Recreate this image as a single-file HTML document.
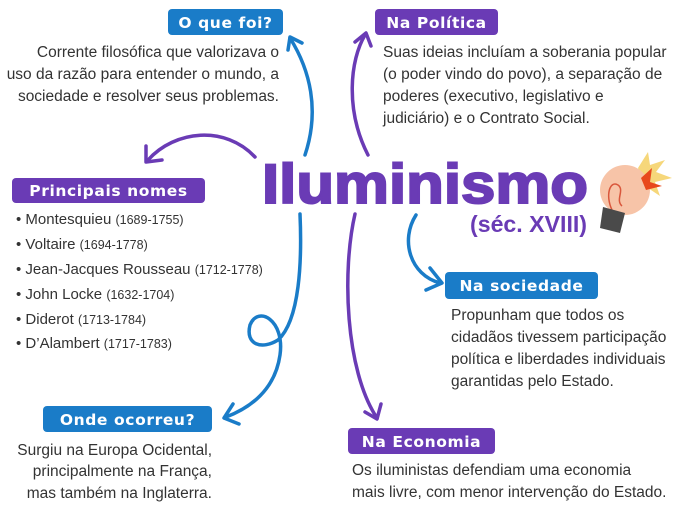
<!DOCTYPE html>
<html><head><meta charset="utf-8"><style>
html,body{margin:0;padding:0;background:#fff;}
svg{display:block;}
.t{font-family:"Liberation Sans",sans-serif;font-size:15.5px;fill:#333;}
.h{font-family:"DejaVu Sans","Liberation Sans",sans-serif;font-weight:bold;font-size:15.5px;fill:#fff;letter-spacing:0.6px;}
.li{font-family:"Liberation Sans",sans-serif;font-size:15px;fill:#333;}
.yr{font-size:12.5px;}
</style></head><body>
<svg width="685" height="510" viewBox="0 0 685 510" xmlns="http://www.w3.org/2000/svg">
<g fill="none" stroke-linecap="round" stroke-linejoin="round" stroke-width="3.5">
 <path d="M305 155 C320 110 310 70 290 38" stroke="#1a7cc8"/>
 <path d="M288 50 L290 37 L302 43" stroke="#1a7cc8"/>
 <path d="M255 157 C225 125 175 130 148 160" stroke="#6a3bb5"/>
 <path d="M146 146 L146 162 L162 160" stroke="#6a3bb5"/>
 <path d="M368 155 C345 110 350 60 365 35" stroke="#6a3bb5"/>
 <path d="M355 42 L366 33 L371 46" stroke="#6a3bb5"/>
 <path d="M416 215 C400 240 410 275 440 283" stroke="#1a7cc8"/>
 <path d="M430 268 L442 283 L426 290" stroke="#1a7cc8"/>
 <path d="M300 214 C302 260 300 320 278 340 C262 350 245 345 250 325 C258 305 285 320 280 355 C275 390 250 408 226 417" stroke="#1a7cc8"/>
 <path d="M233 404 L224 418 L239 424" stroke="#1a7cc8"/>
 <path d="M355 214 C342 270 345 370 377 418" stroke="#6a3bb5"/>
 <path d="M365 412 L377 419 L381 404" stroke="#6a3bb5"/>
</g>
<rect x="168" y="9" width="115" height="26" rx="4" fill="#1a7cc8"/>
<text x="225.5" y="28" class="h" text-anchor="middle">O que foi?</text>
<rect x="375" y="9" width="123" height="26" rx="4" fill="#6a3bb5"/>
<text x="436.5" y="28" class="h" text-anchor="middle">Na Política</text>
<rect x="12" y="178" width="193" height="25" rx="4" fill="#6a3bb5"/>
<text x="108.5" y="196" class="h" text-anchor="middle">Principais nomes</text>
<rect x="445" y="272" width="153" height="27" rx="4" fill="#1a7cc8"/>
<text x="521.5" y="291" class="h" text-anchor="middle">Na sociedade</text>
<rect x="43" y="406" width="169" height="26" rx="4" fill="#1a7cc8"/>
<text x="127.5" y="425" class="h" text-anchor="middle">Onde ocorreu?</text>
<rect x="348" y="428" width="147" height="26" rx="4" fill="#6a3bb5"/>
<text x="421.5" y="447" class="h" text-anchor="middle">Na Economia</text>
<g class="t" text-anchor="end">
 <text x="279" y="57">Corrente filosófica que valorizava o</text>
 <text x="279" y="79">uso da razão para entender o mundo, a</text>
 <text x="279" y="101">sociedade e resolver seus problemas.</text>
 <text x="212" y="455">Surgiu na Europa Ocidental,</text>
 <text x="212" y="476">principalmente na França,</text>
 <text x="212" y="498">mas também na Inglaterra.</text>
</g>
<g class="t">
 <text x="383" y="57">Suas ideias incluíam a soberania popular</text>
 <text x="383" y="79">(o poder vindo do povo), a separação de</text>
 <text x="383" y="101">poderes (executivo, legislativo e</text>
 <text x="383" y="123">judiciário) e o Contrato Social.</text>
 <text x="451" y="320">Propunham que todos os</text>
 <text x="451" y="342">cidadãos tivessem participação</text>
 <text x="451" y="364">política e liberdades individuais</text>
 <text x="451" y="386">garantidas pelo Estado.</text>
 <text x="352" y="475">Os iluministas defendiam uma economia</text>
 <text x="352" y="497">mais livre, com menor intervenção do Estado.</text>
</g>
<g class="li">
 <text x="16" y="224">• Montesquieu <tspan class="yr">(1689-1755)</tspan></text>
 <text x="16" y="249">• Voltaire <tspan class="yr">(1694-1778)</tspan></text>
 <text x="16" y="274">• Jean-Jacques Rousseau <tspan class="yr">(1712-1778)</tspan></text>
 <text x="16" y="299">• John Locke <tspan class="yr">(1632-1704)</tspan></text>
 <text x="16" y="324">• Diderot <tspan class="yr">(1713-1784)</tspan></text>
 <text x="16" y="348">• D’Alambert <tspan class="yr">(1717-1783)</tspan></text>
</g>
<text x="262" y="203" font-family="Liberation Sans,sans-serif" font-weight="bold" font-size="56" fill="#6a3bb5" stroke="#6a3bb5" stroke-width="2" textLength="326" lengthAdjust="spacingAndGlyphs">Iluminismo</text>
<text x="470" y="232" font-family="Liberation Sans,sans-serif" font-weight="bold" font-size="23" fill="#6a3bb5" textLength="117" lengthAdjust="spacingAndGlyphs">(séc. XVIII)</text>
<polygon points="638,168 648,152 650,165 665,160 656,172 672,178 655,182 660,196 645,186" fill="#f6d77a"/>
<circle cx="625" cy="190" r="25" fill="#f7c4a8"/>
<polygon points="641,178 652,168 650,182 662,186 646,190" fill="#e8481c"/>
<path d="M612 210 C605 195 610 180 618 185 C625 190 615 200 622 206" fill="none" stroke="#d9573c" stroke-width="1.5"/>
<polygon points="603,207 625,213 620,233 600,228" fill="#4a4a4a"/>
</svg>
</body></html>
